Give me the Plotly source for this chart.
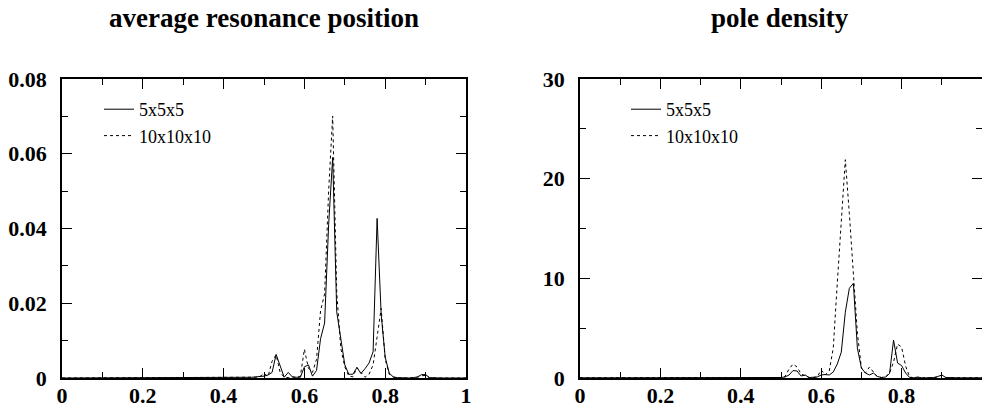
import plotly.graph_objects as go

# ---------------- data ----------------
x_pos = [0.00, 0.40, 0.41, 0.42, 0.43, 0.44, 0.45, 0.46, 0.47, 0.48, 0.49,
         0.50, 0.51, 0.52, 0.53, 0.54, 0.55, 0.56, 0.57, 0.58, 0.59,
         0.60, 0.61, 0.62, 0.63, 0.64, 0.65, 0.66, 0.67, 0.68, 0.69,
         0.70, 0.71, 0.72, 0.73, 0.74, 0.75, 0.76, 0.77, 0.78, 0.79,
         0.80, 0.81, 0.82, 0.83, 0.84, 0.85, 0.86, 0.87, 0.88, 0.89,
         0.90, 0.91, 0.92, 0.93, 0.94, 0.95, 1.00]

# average resonance position
avg_5 = [0, 0.0001, 0, 0, 0, 0, 0, 0.0001, 0.0002, 0.0003, 0.0004,
         0.0005, 0.0008, 0.0015, 0.0063, 0.003, 0.0002, 0.0015, 0.0003, 0.0002, 0.0002,
         0.003, 0.0035, 0.0005, 0.002, 0.0105, 0.0147, 0.041, 0.059, 0.0177, 0.010,
         0.0035, 0.001, 0.001, 0.0028, 0.0012, 0.0025, 0.004, 0.007, 0.0427, 0.017,
         0.0056, 0.0013, 0.0003, 0.0001, 0, 0, 0, 0.0001, 0.0003, 0.0009,
         0.0009, 0.0001, 0, 0, 0, 0, 0]
avg_10 = [0, 0, 0, 0, 0, 0, 0, 0, 0.0001, 0.0002, 0.0004,
          0.0012, 0.0004, 0.0045, 0.0062, 0.0015, 0.0002, 0.0001, 0.0003, 0.0001, 0.0005,
          0.0077, 0.0026, 0.0015, 0.005, 0.018, 0.0225, 0.050, 0.0701, 0.023, 0.008,
          0.003, 0.0005, 0.0003, 0.0028, 0.0015, 0.0002, 0.001, 0.0035, 0.011, 0.0186,
          0.005, 0.001, 0.0002, 0, 0, 0, 0, 0, 0.0002, 0.0006,
          0.0007, 0, 0, 0, 0, 0, 0]

# pole density
pole_5 = [0.02, 0.02, 0.02, 0.02, 0.02, 0.02, 0.02, 0.03, 0.03, 0.04, 0.05,
          0.05, 0.1, 0.3, 0.75, 0.7, 0.2, 0.3, 0.05, 0.05, 0.1,
          0.3, 0.35, 0.3, 0.6, 1.4, 2.6, 6.6, 9.0, 9.5, 3.0,
          1.0, 0.5, 0.3, 0.5, 0.15, 0.05, 0.1, 0.45, 3.8, 1.5,
          1.25, 0.5, 0.05, 0.02, 0.1, 0.02, 0.02, 0.02, 0.05, 0.15,
          0.3, 0.05, 0.02, 0.02, 0.02, 0.02, 0.02]
pole_10 = [0.02, 0.02, 0.02, 0.02, 0.02, 0.02, 0.02, 0.02, 0.02, 0.02, 0.02,
           0.05, 0.15, 0.9, 1.4, 1.1, 0.4, 0.2, 0.05, 0.05, 0.1,
           0.8, 0.3, 0.7, 3.0, 9.5, 15.7, 21.9, 16.5, 10.8, 4.5,
           1.0, 0.5, 1.1, 0.6, 0.1, 0.05, 0.1, 0.5, 1.6, 3.4,
           3.1, 1.2, 0.1, 0.02, 0.02, 0.02, 0.02, 0.02, 0.02, 0.1,
           0.3, 0.05, 0.02, 0.02, 0.02, 0.02, 0.02]

series_names = ["5x5x5", "10x10x10"]
panel_titles = ["average resonance position", "pole density"]

# ---------------- figure ----------------
W, H = 982, 410
SERIF = "Liberation Serif, Times New Roman, serif"

fig = go.Figure()

line_solid = dict(color="black", width=1)
line_dot = dict(color="black", width=1, dash="3px,3px")

fig.add_trace(go.Scatter(x=x_pos, y=avg_5, mode="lines", line=line_solid,
                         name=series_names[0], xaxis="x", yaxis="y", legend="legend"))
fig.add_trace(go.Scatter(x=x_pos, y=avg_10, mode="lines", line=line_dot,
                         name=series_names[1], xaxis="x", yaxis="y", legend="legend"))
fig.add_trace(go.Scatter(x=x_pos, y=pole_5, mode="lines", line=line_solid,
                         name=series_names[0], xaxis="x2", yaxis="y2", legend="legend2"))
fig.add_trace(go.Scatter(x=x_pos, y=pole_10, mode="lines", line=line_dot,
                         name=series_names[1], xaxis="x2", yaxis="y2", legend="legend2"))

tickfont = dict(family=SERIF, size=22, color="black", weight="bold")

def xaxis_style(domain, rng, anchor):
    return dict(domain=domain, range=rng, anchor=anchor, dtick=0.2, tick0=0,
                ticks="inside", ticklen=10, tickwidth=1.2, tickcolor="black",
                minor=dict(dtick=0.1, tick0=0, ticks="inside", ticklen=6,
                           tickwidth=1.2, tickcolor="black", showgrid=False),
                showline=True, linecolor="black", linewidth=1.5, mirror="allticks",
                showgrid=False, zeroline=False, tickfont=tickfont,
                ticklabelstandoff=-3, automargin=False, fixedrange=True)

def yaxis_style(domain, rng, anchor, dtick, minor_dtick):
    return dict(domain=domain, range=rng, anchor=anchor, dtick=dtick, tick0=0,
                ticks="inside", ticklen=10, tickwidth=1.2, tickcolor="black",
                minor=dict(dtick=minor_dtick, tick0=0, ticks="inside", ticklen=6,
                           tickwidth=1.2, tickcolor="black", showgrid=False),
                showline=True, linecolor="black", linewidth=1.5, mirror="allticks",
                showgrid=False, zeroline=False, tickfont=tickfont,
                ticklabelstandoff=9, automargin=False, fixedrange=True)

ydom = [(H - 378) / H, (H - 79) / H]
x1dom = [62 / W, 466 / W]
x2dom = [580 / W, 1.0]

legend_font = dict(family=SERIF, size=18, color="black")

fig.update_layout(
    width=W, height=H,
    margin=dict(l=0, r=0, t=0, b=0, autoexpand=False),
    paper_bgcolor="white", plot_bgcolor="white",
    xaxis=xaxis_style(x1dom, [0, 1], "y"),
    yaxis=yaxis_style(ydom, [0, 0.08], "x", 0.02, 0.01),
    xaxis2=xaxis_style(x2dom, [0, 1], "y2"),
    yaxis2=yaxis_style(ydom, [0, 30], "x2", 10, 5),
    legend=dict(x=99 / W, y=(H - 91) / H, xanchor="left", yanchor="top",
                font=legend_font, bgcolor="rgba(0,0,0,0)", borderwidth=0,
                tracegroupgap=0, itemwidth=30),
    legend2=dict(x=626 / W, y=(H - 91) / H, xanchor="left", yanchor="top",
                 font=legend_font, bgcolor="rgba(0,0,0,0)", borderwidth=0,
                 tracegroupgap=0, itemwidth=30),
    annotations=[
        dict(text="<b>%s</b>" % panel_titles[0], x=(x1dom[0] + x1dom[1]) / 2,
             y=(H - 18) / H, xref="paper", yref="paper", showarrow=False,
             xanchor="center", yanchor="middle",
             font=dict(family=SERIF, size=27, color="black")),
        dict(text="<b>%s</b>" % panel_titles[1], x=780 / W,
             y=(H - 18) / H, xref="paper", yref="paper", showarrow=False,
             xanchor="center", yanchor="middle",
             font=dict(family=SERIF, size=27, color="black")),
    ],
    showlegend=True,
)

fig.write_html(
    "out.html",
    config={"displayModeBar": False},
    post_script="document.body.style.margin='0';document.body.style.overflow='hidden';",
)
